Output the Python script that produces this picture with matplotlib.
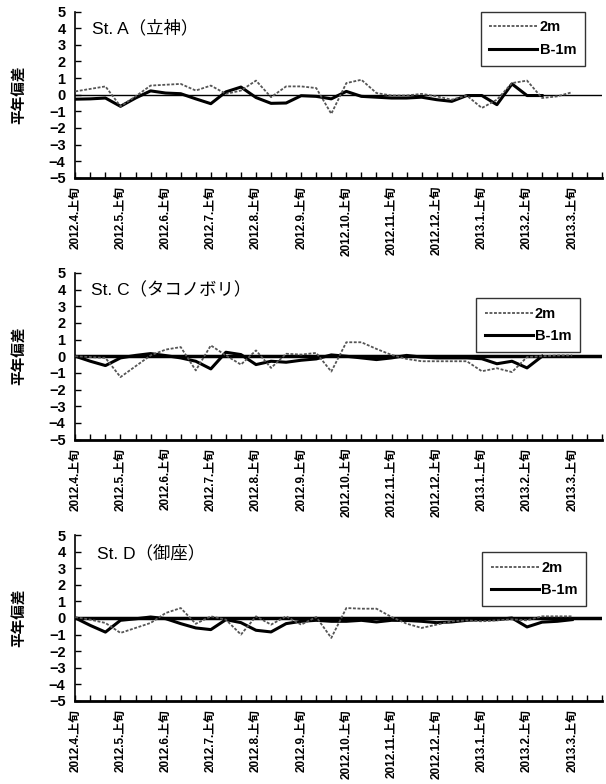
import matplotlib
matplotlib.use("Agg")
import matplotlib.pyplot as plt

plt.rcParams['font.family'] = ['Liberation Sans', 'Noto Sans CJK JP', 'DejaVu Sans']

# x categories: 上旬/中旬/下旬 from 2012.4 to 2013.3
months = ['2012.4', '2012.5', '2012.6', '2012.7', '2012.8', '2012.9',
          '2012.10', '2012.11', '2012.12', '2013.1', '2013.2', '2013.3']
tick_labels = [m + '.上旬' for m in months]

stations = ['St. A（立神）', 'St. C（タコノボリ）', 'St. D（御座）']

a_2m = [0.2, 0.35, 0.5, -0.7, -0.1, 0.55, 0.6, 0.65, 0.25, 0.55, 0.05, 0.25,
        0.85, -0.15, 0.5, 0.5, 0.4, -1.15, 0.7, 0.9, 0.1, -0.05, -0.05, 0.05,
        -0.1, -0.3, -0.05, -0.8, -0.3, 0.7, 0.85, -0.2, -0.1, 0.15]
a_b1m = [-0.27, -0.25, -0.2, -0.7, -0.2, 0.23, 0.1, 0.06, -0.25, -0.54, 0.17, 0.46,
         -0.17, -0.52, -0.5, -0.06, -0.1, -0.25, 0.2, -0.1, -0.15, -0.2, -0.2, -0.15,
         -0.3, -0.4, -0.05, -0.05, -0.6, 0.65, -0.05, -0.05]

c_2m = [0.0, -0.05, -0.1, -1.25, -0.6, 0.05, 0.4, 0.55, -0.85, 0.65, 0.05, -0.5,
        0.35, -0.7, 0.15, 0.1, 0.2, -0.92, 0.84, 0.84, 0.44, 0.08, -0.16, -0.3,
        -0.3, -0.3, -0.3, -0.9, -0.72, -0.95, -0.05, 0.0, 0.05, 0.05]
c_b1m = [0.0, -0.3, -0.56, -0.1, 0.05, 0.16, 0.04, -0.1, -0.3, -0.76, 0.24, 0.1,
         -0.5, -0.3, -0.36, -0.24, -0.16, 0.08, 0.0, -0.1, -0.2, -0.1, 0.05, -0.05,
         -0.1, -0.1, -0.1, -0.15, -0.45, -0.3, -0.7, 0.0]

d_2m = [0.05, -0.1, -0.3, -0.9, -0.6, -0.3, 0.3, 0.6, -0.35, 0.1, -0.1, -1.0,
        0.1, -0.4, 0.1, -0.4, 0.06, -1.2, 0.6, 0.56, 0.56, 0.06, -0.34, -0.6,
        -0.4, -0.2, -0.14, -0.2, -0.14, -0.08, -0.14, 0.1, 0.1, 0.1]
d_b1m = [0.0, -0.45, -0.85, -0.14, -0.05, 0.06, -0.04, -0.34, -0.6, -0.7, -0.1, -0.28,
         -0.74, -0.84, -0.34, -0.2, -0.14, -0.2, -0.2, -0.14, -0.24, -0.14, -0.15, -0.2,
         -0.28, -0.24, -0.14, -0.1, -0.1, 0.0, -0.54, -0.25, -0.2, -0.1]

series_2m = [a_2m, c_2m, d_2m]
series_b1m = [a_b1m, c_b1m, d_b1m]

fig = plt.figure(figsize=(6.06, 7.84), dpi=100)

# axes boxes [left, bottom, width, height] in figure fraction
boxes = [[0.1243, 0.7733, 0.8696, 0.2118],
         [0.1243, 0.4394, 0.8696, 0.2124],
         [0.1243, 0.1059, 0.8696, 0.2117]]
zero_lw = [1.0, 2.5, 2.5]
title_pos = [(0.032, 0.90), (0.030, 0.898), (0.041, 0.89)]
legend_pos = [(0.769, 1.0), (0.760, 0.85), (0.772, 0.898)]

for k in range(3):
    ax = fig.add_axes(boxes[k])
    ax.axhline(0, color='black', lw=zero_lw[k], zorder=1)
    ax.plot(range(len(series_2m[k])), series_2m[k], color='#555555', lw=1.3,
            linestyle=(0, (1.6, 0.9)), label='2m', zorder=3)
    ax.plot(range(len(series_b1m[k])), series_b1m[k], color='black', lw=2.2,
            label='B-1m', zorder=2)
    ax.set_xlim(0, 35)
    ax.set_ylim(-5, 5)
    ax.set_yticks(range(-5, 6))
    ax.set_yticklabels([str(v).replace('-', '−') for v in range(-5, 6)],
                       fontsize=10.5, fontweight='bold')
    ax.set_xticks(range(0, 36, 3))
    ax.set_xticks(range(36), minor=True)
    ax.set_xticklabels(tick_labels, rotation=90, fontsize=8.5, fontweight='bold',
                       va='top', ha='center')
    ax.tick_params(axis='both', which='both', direction='in', length=4, width=1)
    ax.tick_params(axis='y', pad=7)
    ax.tick_params(axis='x', pad=6)
    ax.spines['top'].set_visible(False)
    ax.spines['right'].set_visible(False)
    ax.spines['bottom'].set_linewidth(2)
    ax.spines['left'].set_linewidth(1.2)
    ax.set_ylabel('平年偏差', fontsize=10.5, fontweight='bold')
    ax.yaxis.set_label_coords(-0.093, 0.5)
    ax.text(title_pos[k][0], title_pos[k][1], stations[k], transform=ax.transAxes,
            fontsize=12.5, va='center', ha='left')
    leg = ax.legend(loc='upper left', bbox_to_anchor=legend_pos[k], frameon=True,
                    fancybox=False, edgecolor='black', fontsize=10.5,
                    handlelength=3.3, handletextpad=0.15, borderpad=0.6,
                    labelspacing=0.6, borderaxespad=0)
    leg.get_frame().set_linewidth(1.0)
    for t in leg.get_texts():
        t.set_fontweight('bold')

fig.savefig('out.png', dpi=100)
